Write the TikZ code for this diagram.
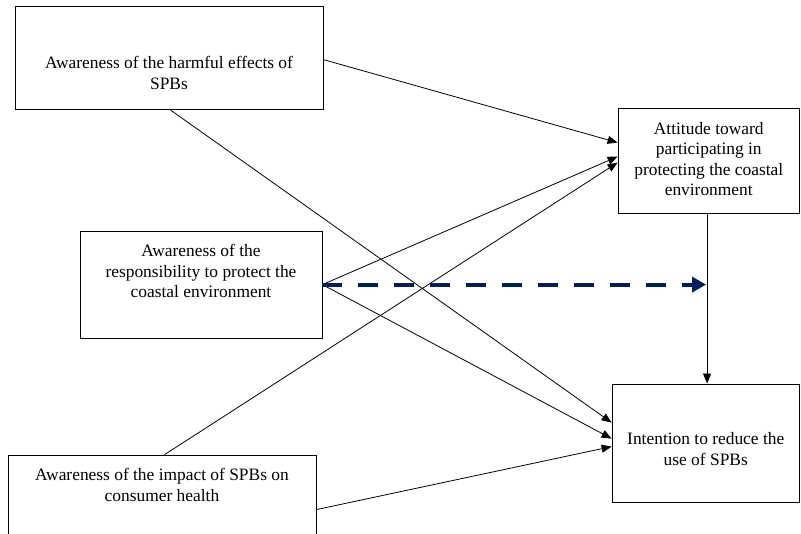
\documentclass[tikz,border=0pt]{standalone}
\usepackage{fontspec}
\setmainfont{Liberation Serif}
\usetikzlibrary{arrows.meta,calc}
\definecolor{navy}{RGB}{0,32,96}
\begin{document}
\begin{tikzpicture}[x=1pt,y=-1pt,
  box/.style={draw=black,line width=0.8pt,rectangle,inner sep=0pt},
  txt/.style={align=center,inner sep=0pt,font=\fontsize{17.4pt}{20.5pt}\selectfont},
  conn/.style={line width=0.8pt,-{Triangle[length=10pt,width=8pt]}},
  dconn/.style={navy,line width=4pt,dash pattern=on 20pt off 16pt,-{Triangle[length=14pt,width=15pt]}}]
\useasboundingbox (0,0) rectangle (801,534);
\clip (0,0) rectangle (801,534);
\fill[white] (0,0) rectangle (801,534);
% boxes
\node[box,minimum width=308pt,minimum height=103pt] (b1) at (169,57.5) {};
\node[box,minimum width=242pt,minimum height=107pt] (b2) at (201,284.5) {};
\node[box,minimum width=308pt,minimum height=110pt] (b3) at (162,510) {};
\node[box,minimum width=181.5pt,minimum height=105pt] (att) at (708.75,160.5) {};
\node[box,minimum width=187.5pt,minimum height=118pt] (int) at (705.75,443) {};
% texts
\node[txt] (t1) at (169,73) {Awareness of the harmful effects of\\SPBs};
\node[txt] (t2) at (201,271) {Awareness of the\\responsibility to protect the\\coastal environment};
\node[txt] (t3) at (162,485) {Awareness of the impact of SPBs on\\consumer health};
\node[txt] (t4) at (708.75,159) {Attitude toward\\participating in\\protecting the coastal\\environment};
\node[txt] (t5) at (705.75,449) {Intention to reduce the\\use of SPBs};
% connection points
\coordinate (b1e) at ($(b1.north east)+(0,54)$);
\coordinate (b1s) at ($(b1.south west)+(155,0)$);
\coordinate (b2e) at ($(b2.north east)+(0,54)$);
\coordinate (b3n) at ($(b3.north west)+(157,0)$);
\coordinate (b3e) at ($(b3.north east)+(0,55)$);
\coordinate (att1) at ($(att.north west)+(0,35)$);
\coordinate (att2) at ($(att.north west)+(0,49)$);
\coordinate (att3) at ($(att.north west)+(0,55)$);
\coordinate (int1) at ($(int.north west)+(0,39)$);
\coordinate (int2) at ($(int.north west)+(0,55)$);
\coordinate (int3) at ($(int.north west)+(0,63)$);
\coordinate (atts) at ($(att.south west)+(89.5,0)$);
\coordinate (dend) at (atts |- b2e);
% connectors
\draw[conn] (b1e) -- (att1);
\draw[conn] (b1s) -- (int1);
\draw[conn] (b2e) -- (att2);
\draw[conn] (b2e) -- (int2);
\draw[conn] (b3n) -- (att3);
\draw[conn] (b3e) -- (int3);
\draw[conn] (atts) -- (atts |- int.north);
\draw[dconn] (b2e) -- ([xshift=-1pt]dend);
\end{tikzpicture}
\end{document}
